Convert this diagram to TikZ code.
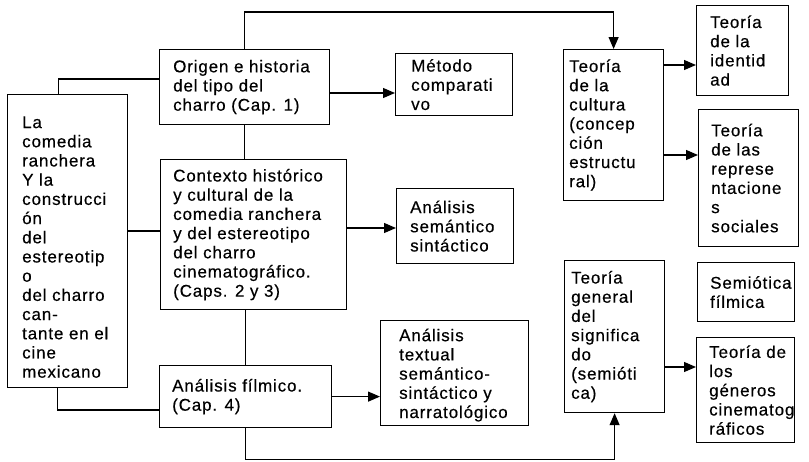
\documentclass[tikz,border=0pt]{standalone}
\usepackage{fontspec}
\setmainfont{Liberation Sans}[LetterSpace=5,FakeBold=0.4]
\usetikzlibrary{arrows.meta}
\newcommand\bodyfont{\fontsize{17}{19.2}\selectfont}
\tikzset{
  box/.style={draw, line width=1.2pt, anchor=north west, inner sep=0pt},
  boxtext/.style={align=left, font=\bodyfont, inner sep=0pt, anchor=west},
  conn/.style={line width=1.2pt},
  arr/.style={line width=1.2pt, -{Triangle[length=12pt,width=10pt]}}
}
\newcommand\drawbox[8]{%
  \pgfmathsetmacro\bw{#4-#2}%
  \pgfmathsetmacro\bh{#5-#3}%
  \node[box, minimum width=\bw pt, minimum height=\bh pt] (#1) at (#2,#3) {};
  \node[boxtext] (#1t) at ([xshift=#6pt,yshift=#7pt]#1.west) {#8};}
\begin{document}
\begin{tikzpicture}[x=1pt,y=-1pt]
\useasboundingbox (0,0) rectangle (809,461);
\drawbox{L}{7}{94}{127}{387}{15}{-6}{La\\comedia\\ranchera\\ Y la\\construcci\\ón\\del\\estereotip\\o\\del charro\\can-\\tante en el\\cine\\mexicano}
\drawbox{O}{159}{49}{329}{124}{14}{0}{Origen e historia\\del tipo del\\charro (Cap. 1)}
\drawbox{C}{160}{159}{346}{309}{13}{0}{Contexto histórico\\y cultural de la\\comedia ranchera\\y del  estereotipo\\del charro\\cinematográfico.\\(Caps. 2 y 3)}
\drawbox{F}{159}{365}{331}{427}{13}{0}{Análisis fílmico.\\(Cap. 4)}
\drawbox{M}{395}{53}{512}{115}{16}{0}{Método\\comparati\\vo}
\drawbox{S}{396}{188}{513}{263}{14}{0}{Análisis\\semántico\\sintáctico}
\drawbox{T}{380}{320}{528}{425}{19}{-2}{Análisis\\textual\\semántico-\\sintáctico y\\narratológico}
\drawbox{K}{563}{49}{663}{200}{6}{0}{Teoría\\de la\\cultura\\(concep\\ción\\estructu\\ral)}
\drawbox{G}{564}{260}{664}{412}{7}{0}{Teoría\\general\\del\\significa\\do\\(semióti\\ca)}
\drawbox{I}{696}{5}{788}{95}{14}{0}{Teoría\\de la\\identid\\ad}
\drawbox{R}{698}{109}{798}{246}{13}{0}{Teoría\\de las\\represe\\ntacione\\s\\sociales}
\drawbox{SF}{697}{262}{794}{321}{13}{0}{Semiótica\\fílmica}
\drawbox{GC}{696}{337}{794}{442}{13}{0}{Teoría de\\los\\géneros\\cinematog\\ráficos}
% helper levels
\coordinate (yA) at (0,79);
\coordinate (yB) at (0,231);
\coordinate (yC) at (0,228);
\coordinate (yD) at (0,93);
\coordinate (yE) at (0,410);
\coordinate (yF) at (0,65);
\coordinate (yG) at (0,155);
\coordinate (yH) at (0,367);
% connectors
\draw[arr] (O.north) -- ++(0,-37) -| (K.north);
\draw[conn] (O.west |- yA) -| ([xshift=-9pt]L.north);
\draw[conn] (L.east |- yB) -- (C.west |- yB);
\draw[arr] (C.east |- yC) -- (S.west |- yC);
\draw[conn] (O.south) -- (O.south |- C.north);
\draw[conn] (F.north) -- (F.north |- C.south);
\draw[arr] (O.east |- yD) -- (M.west |- yD);
\draw[arr] (F.east) -- (F.east -| T.west);
\draw[conn] ([xshift=-10pt]L.south) |- (F.west |- yE);
\draw[arr] (F.south) -- ++(0,31) -| (G.south);
\draw[arr] (K.east |- yF) -- (I.west |- yF);
\draw[arr] (K.east |- yG) -- (R.west |- yG);
\draw[arr] (G.east |- yH) -- (GC.west |- yH);
\end{tikzpicture}
\end{document}
